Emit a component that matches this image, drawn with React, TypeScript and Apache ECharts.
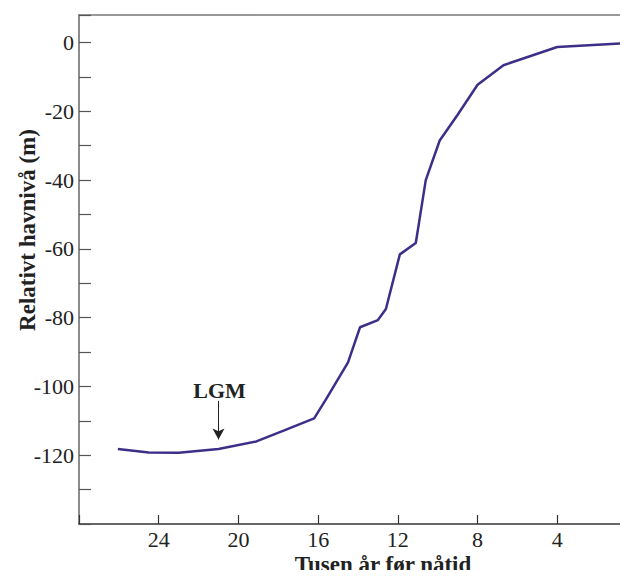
import React, { useEffect, useRef } from "react";
import * as echarts from "echarts";

const ages = [26.05, 24.5, 23, 21, 19.1, 17.7, 16.2, 15.6, 14.5, 13.9, 13.0, 12.6, 11.9, 11.1, 10.6, 9.9, 9.0, 8.0, 6.7, 4.0, 0];
const levels = [-118.2, -119.2, -119.3, -118.2, -116, -112.8, -109.3, -103.7, -93, -82.8, -80.7, -77.5, -61.6, -58.3, -40, -28.5, -21, -12.3, -6.6, -1.3, 0];
const xTickLabels = [24, 20, 16, 12, 8, 4];
const yTickLabels = [0, -20, -40, -60, -80, -100, -120];
const xTitle = "Tusen år før nåtid";
const yTitle = "Relativt havnivå (m)";
const lgmLabel = "LGM";
const lgmAge = 21;

const FONT = "'Liberation Serif', 'Times New Roman', serif";

export default function App() {
  const ref = useRef<HTMLDivElement>(null);
  useEffect(() => {
    if (!ref.current) return;
    const chart = echarts.init(ref.current, null, { renderer: "svg" });
    const data = ages.map((a, i) => [a, levels[i]]);
    chart.setOption({
      animation: false,
      backgroundColor: "#ffffff",
      grid: { left: 79, right: 0, top: 15, bottom: 54, containLabel: false },
      xAxis: [
        {
          type: "value",
          min: 0,
          max: 28,
          interval: 4,
          inverse: true,
          axisLine: { show: true, onZero: false, lineStyle: { color: "#333", width: 1.5 } },
          axisTick: { show: true, inside: true, length: 9, lineStyle: { color: "#333", width: 1.2 } },
          axisLabel: {
            show: true,
            margin: 4,
            color: "#222",
            fontFamily: FONT,
            fontSize: 22,
            formatter: (v: number) => (xTickLabels.includes(v) ? String(v) : ""),
          },
          splitLine: { show: false },
        },
        {
          type: "value",
          position: "top",
          min: 0,
          max: 28,
          inverse: true,
          axisLine: { show: true, onZero: false, lineStyle: { color: "#777", width: 1.5 } },
          axisTick: { show: false },
          axisLabel: { show: false },
          splitLine: { show: false },
        },
      ],
      yAxis: {
        type: "value",
        min: -140,
        max: 8,
        interval: 10,
        axisLine: { show: true, onZero: false, lineStyle: { color: "#666", width: 1.5 } },
        axisTick: { show: true, inside: true, length: 12, lineStyle: { color: "#555", width: 1.2 } },
        axisLabel: {
          show: true,
          margin: 5,
          color: "#222",
          fontFamily: FONT,
          fontSize: 22,
          formatter: (v: number) => (yTickLabels.includes(v) ? String(v) : ""),
        },
        splitLine: { show: false },
      },
      series: [
        {
          type: "line",
          data,
          xAxisIndex: 0,
          symbol: "none",
          lineStyle: { color: "#3d2f88", width: 2.5 },
          silent: true,
          markLine: {
            silent: true,
            symbol: ["none", "arrow"],
            symbolSize: [9, 11],
            label: { show: false },
            lineStyle: { color: "#222", width: 1, type: "solid" },
            data: [[{ coord: [lgmAge, -104.2] }, { coord: [lgmAge, -115.4] }]],
          },
          markPoint: {
            silent: true,
            symbol: "rect",
            symbolSize: [1, 1],
            itemStyle: { color: "rgba(0,0,0,0)" },
            label: {
              show: true,
              position: "inside",
              formatter: lgmLabel,
              color: "#222",
              fontFamily: FONT,
              fontWeight: "bold",
              fontSize: 22,
            },
            data: [{ coord: [20.95, -101.3] }],
          },
        },
      ],
      graphic: [
        {
          type: "text",
          x: 383,
          y: 564,
          style: {
            text: xTitle,
            fill: "#222",
            font: `bold 23px ${FONT}`,
            align: "center",
            verticalAlign: "middle",
          },
        },
        {
          type: "text",
          x: 27,
          y: 230,
          rotation: Math.PI / 2,
          style: {
            text: yTitle,
            fill: "#222",
            font: `bold 23px ${FONT}`,
            align: "center",
            verticalAlign: "middle",
          },
        },
      ],
    });
    return () => chart.dispose();
  }, []);
  return (
    <div style={{ width: 628, height: 578, margin: -8, overflow: "hidden", position: "relative" }}>
      <div ref={ref} style={{ width: 640, height: 578 }} />
    </div>
  );
}
